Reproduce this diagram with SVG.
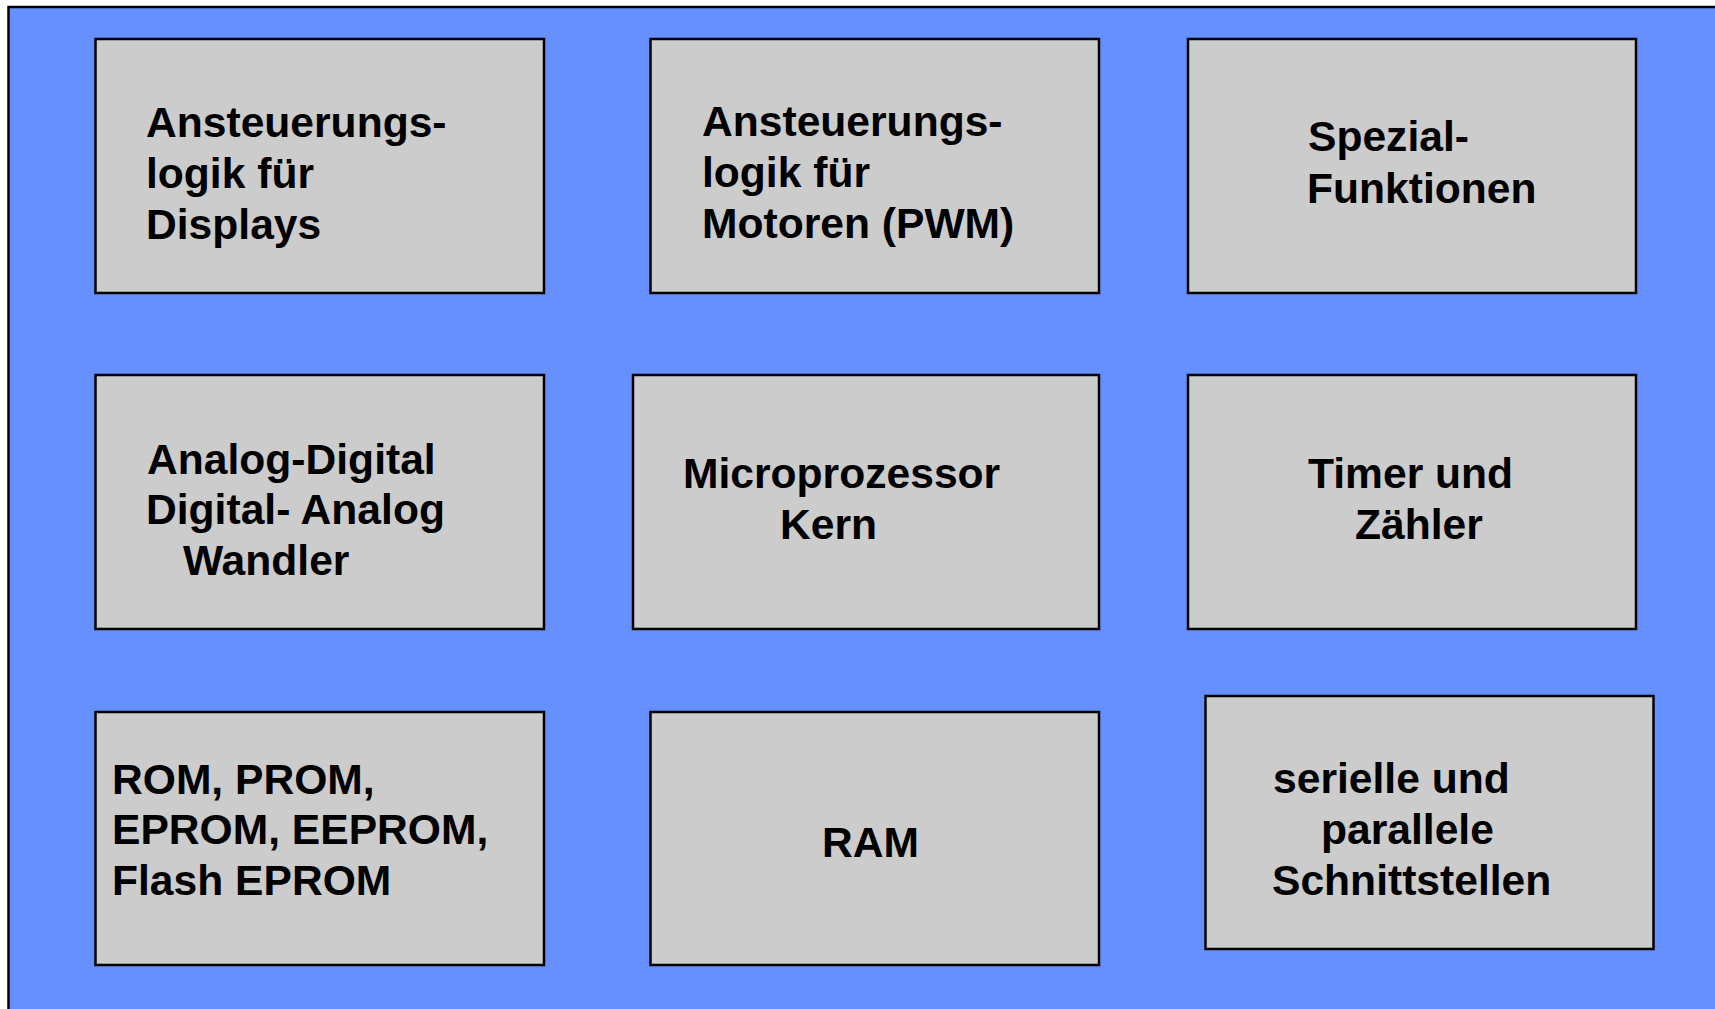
<svg xmlns="http://www.w3.org/2000/svg" width="1715" height="1009" viewBox="0 0 1715 1009">
  <style>
    .frame { fill: #6690FF; stroke: #000000; stroke-width: 2.5; }
    .box { fill: #CCCCCC; stroke: #000000; stroke-width: 2.5; }
    .lbl { font-family: "Liberation Sans", Arial, sans-serif; font-weight: bold; font-size: 42.6px; fill: #000000; }
  </style>

  <!-- page background and blue chip frame (runs off the right and bottom edges) -->
  <rect x="0" y="0" width="1715" height="1009" fill="#FFFFFF"/>
  <rect class="frame" x="8.5" y="7" width="1720" height="1020"/>

  <!-- row 1 -->
  <g id="display-logic">
    <rect class="box" x="95.5" y="39" width="448.5" height="254"/>
    <text class="lbl" x="146" y="137">Ansteuerungs-</text>
    <text class="lbl" x="146" y="188">logik für</text>
    <text class="lbl" x="146" y="238.5">Displays</text>
  </g>
  <g id="motor-logic">
    <rect class="box" x="650.5" y="39" width="448.5" height="254"/>
    <text class="lbl" x="702" y="136">Ansteuerungs-</text>
    <text class="lbl" x="702" y="187">logik für</text>
    <text class="lbl" x="702" y="238">Motoren (PWM)</text>
  </g>
  <g id="special-functions">
    <rect class="box" x="1188" y="39" width="448" height="254"/>
    <text class="lbl" x="1308" y="151">Spezial-</text>
    <text class="lbl" x="1307" y="203">Funktionen</text>
  </g>

  <!-- row 2 -->
  <g id="converters">
    <rect class="box" x="95.5" y="375" width="448.5" height="254"/>
    <text class="lbl" x="147" y="473.5">Analog-Digital</text>
    <text class="lbl" x="146" y="523.5">Digital- Analog</text>
    <text class="lbl" x="183" y="574.5">Wandler</text>
  </g>
  <g id="cpu-core">
    <rect class="box" x="633" y="375" width="466" height="254"/>
    <text class="lbl" x="683" y="488">Microprozessor</text>
    <text class="lbl" x="780" y="539">Kern</text>
  </g>
  <g id="timers">
    <rect class="box" x="1188" y="375" width="448" height="254"/>
    <text class="lbl" x="1308" y="488">Timer und</text>
    <text class="lbl" x="1355" y="539">Zähler</text>
  </g>

  <!-- row 3 -->
  <g id="rom">
    <rect class="box" x="95.5" y="712" width="448.5" height="253"/>
    <text class="lbl" x="112" y="793.5">ROM, PROM,</text>
    <text class="lbl" x="112" y="844">EPROM, EEPROM,</text>
    <text class="lbl" x="112" y="894.5">Flash EPROM</text>
  </g>
  <g id="ram">
    <rect class="box" x="650.5" y="712" width="448.5" height="253"/>
    <text class="lbl" x="822" y="857">RAM</text>
  </g>
  <g id="io-ports">
    <rect class="box" x="1205.5" y="696" width="448" height="253"/>
    <text class="lbl" x="1273" y="792.5">serielle und</text>
    <text class="lbl" x="1321" y="843.5">parallele</text>
    <text class="lbl" x="1272" y="894.5">Schnittstellen</text>
  </g>

  <!-- no connectors in this block diagram -->
  <g id="connectors"/>
</svg>
